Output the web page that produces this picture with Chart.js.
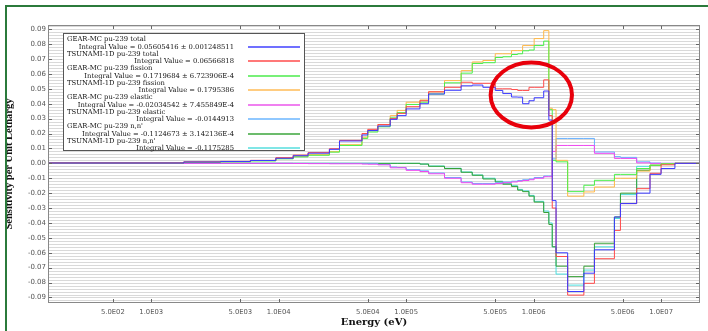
<!DOCTYPE html>
<html>
<head>
<meta charset="utf-8">
<title>Pu-239 sensitivity</title>
<script src="https://cdn.jsdelivr.net/npm/chart.js@4.4.1/dist/chart.umd.min.js"></script>
<style>
  html, body { margin: 0; padding: 0; background: #fff; }
  #wrap { position: relative; width: 708px; height: 331px; overflow: hidden; }
  #frame { position: absolute; left: 5px; top: 5px; width: 720px; height: 340px;
           border-left: 2px solid #2b7a3b; border-top: 2px solid #2b7a3b; }
  #legend { position: absolute; left: 63px; top: 33px; width: 240px; height: 116px;
            background: #fff; border: 1px solid #555;
            font-family: 'DejaVu Serif', serif; font-size: 6.8px; color: #111; }
  .row { position: absolute; white-space: nowrap; line-height: 8px; }
  .swatch { position: absolute; height: 2px; width: 52px; }
</style>
</head>
<body>
<div id="wrap">
  <div id="frame"></div>
  <canvas id="chart" width="708" height="331"></canvas>
  <div id="legend"></div>
</div>
<script>
// Energy group edges (eV), lower edges plus the last upper edge
const groupEdges = [100, 1.8e3, 3.5e3, 6e3, 9.5e3, 1.3e4, 1.7e4, 2.5e4, 3e4, 4.5e4,
  5e4, 6e4, 7.5e4, 8.5e4, 1e5, 1.283e5, 1.5e5, 2e5, 2.7e5, 3.3e5,
  4e5, 5e5, 5.73e5, 6.7e5, 7.5e5, 8.2e5, 9.2e5, 1.01e6, 1.2e6, 1.317e6,
  1.4e6, 1.5e6, 1.85e6, 2.479e6, 3e6, 4.304e6, 4.8e6, 6.434e6, 8.187e6, 1e7,
  1.284e7, 2e7];

// Sensitivity per unit lethargy, one value per group
const gearTotal = [0.0002, 0.0009, 0.0012, 0.0019, 0.0034, 0.0051, 0.0068, 0.0094, 0.015, 0.019,
  0.022, 0.025, 0.0295, 0.032, 0.0365, 0.040, 0.0465, 0.049, 0.052, 0.0525,
  0.051, 0.0489, 0.0468, 0.0445, 0.0444, 0.040, 0.042, 0.044, 0.0485, 0.029,
  -0.025, -0.060, -0.086, -0.0737, -0.058, -0.036, -0.027, -0.020, -0.0074, -0.0035, 0];
const tsunamiTotal = [0.0003, 0.001, 0.0013, 0.002, 0.0038, 0.0055, 0.0072, 0.0098, 0.0154, 0.020,
  0.0228, 0.026, 0.030, 0.0335, 0.038, 0.042, 0.048, 0.051, 0.0544, 0.0537,
  0.0537, 0.050, 0.050, 0.0495, 0.0489, 0.0489, 0.051, 0.051, 0.056, 0.032,
  -0.030, -0.0625, -0.0884, -0.0805, -0.064, -0.045, -0.027, -0.017, -0.0067, -0.001, 0];
const gearFission = [0.0002, 0.0007, 0.001, 0.0016, 0.003, 0.0043, 0.0054, 0.0075, 0.012, 0.0167,
  0.021, 0.0245, 0.0305, 0.034, 0.0395, 0.041, 0.0465, 0.054, 0.0605, 0.067,
  0.0675, 0.071, 0.0715, 0.073, 0.0735, 0.0755, 0.076, 0.079, 0.082, 0.036,
  0.002, 0.001, -0.019, -0.0147, -0.0114, -0.0074, -0.0074, -0.0035, -0.0013, -0.0003, 0];
const tsunamiFission = [0.0002, 0.0008, 0.0011, 0.0018, 0.0033, 0.0047, 0.0058, 0.0078, 0.0125, 0.0175,
  0.022, 0.026, 0.032, 0.0355, 0.041, 0.0425, 0.048, 0.0555, 0.0622, 0.068,
  0.069, 0.0735, 0.0735, 0.0756, 0.0756, 0.079, 0.079, 0.0837, 0.089, 0.037,
  0.036, 0.002, -0.022, -0.0192, -0.0159, -0.010, -0.010, -0.0052, -0.0013, -0.0003, 0];
const gearElastic = [0, 0, 0, 0, 0, -0.0001, -0.0002, -0.0003, -0.0003, -0.0005,
  -0.0006, -0.001, -0.003, -0.003, -0.0047, -0.0055, -0.007, -0.010, -0.013, -0.014,
  -0.014, -0.0135, -0.013, -0.0125, -0.012, -0.0115, -0.011, -0.010, -0.009, -0.009,
  0.008, 0.012, 0.012, 0.012, 0.0067, 0.0033, 0.0033, 0.0003, 0, 0, 0];
const tsunamiElastic = [0, 0, 0, 0, 0, 0, 0, 0, 0, 0,
  0, -0.0008, -0.0025, -0.0028, -0.0042, -0.005, -0.0065, -0.0095, -0.0125, -0.0135,
  -0.0135, -0.013, -0.0125, -0.012, -0.0115, -0.011, -0.0105, -0.0095, -0.0085, -0.0085,
  0.003, 0.0167, 0.0167, 0.0167, 0.0076, 0.0045, 0.004, 0.001, 0.0002, 0, 0];
const gearInelastic = [0, 0, 0, 0, 0, 0, 0, 0, 0, 0,
  0, 0, 0, 0, 0, -0.0005, -0.002, -0.0035, -0.006, -0.008,
  -0.0105, -0.0125, -0.014, -0.0155, -0.018, -0.019, -0.022, -0.026, -0.033, -0.041,
  -0.056, -0.069, -0.076, -0.069, -0.0536, -0.036, -0.020, -0.0047, -0.0013, -0.0003, 0];
const tsunamiInelastic = [0, 0, 0, 0, 0, 0, 0, 0, 0, 0,
  0, 0, 0, 0, 0, -0.0005, -0.0018, -0.0033, -0.0058, -0.0078,
  -0.010, -0.012, -0.0135, -0.015, -0.0175, -0.0185, -0.0215, -0.0255, -0.032, -0.040,
  -0.056, -0.0743, -0.0817, -0.0716, -0.056, -0.037, -0.021, -0.002, -0.0013, -0.0003, 0];

const seriesNames = ['GEAR-MC pu-239 total', 'TSUNAMI-1D pu-239 total',
  'GEAR-MC pu-239 fission', 'TSUNAMI-1D pu-239 fission',
  'GEAR-MC pu-239 elastic', 'TSUNAMI-1D pu-239 elastic',
  "GEAR-MC pu-239 n,n'", "TSUNAMI-1D pu-239 n,n'"];
const integralTexts = ['Integral Value = 0.05605416 \u00b1 0.001248511',
  'Integral Value = 0.06566818',
  'Integral Value = 0.1719684 \u00b1 6.723906E-4',
  'Integral Value = 0.1795386',
  'Integral Value = -0.02034542 \u00b1 7.455849E-4',
  'Integral Value = -0.0144913',
  'Integral Value = -0.1124673 \u00b1 3.142136E-4',
  'Integral Value = -0.1175285'];
const seriesColors = ['#3a3aff', '#ff4a4a', '#48f048', '#ffb848',
  '#f048f0', '#66b0ff', '#34a034', '#4adede'];
const swatchColors = ['#7070ff', '#ff7878', '#78f078', '#ffcc80',
  '#f080f0', '#90c8ff', '#6cbc6c', '#80e6e6'];

const xTicks = [5e2, 1e3, 5e3, 1e4, 5e4, 1e5, 5e5, 1e6, 5e6, 1e7];
const yTicks = [-0.09, -0.08, -0.07, -0.06, -0.05, -0.04, -0.03, -0.02, -0.01, 0,
  0.01, 0.02, 0.03, 0.04, 0.05, 0.06, 0.07, 0.08, 0.09];

// Region marked by the red ellipse (energy, sensitivity)
const markedRegion = { xMin: 4.6e5, xMax: 2.0e6, yMin: 0.0241, yMax: 0.0676 };

const allSeries = [gearTotal, tsunamiTotal, gearFission, tsunamiFission,
  gearElastic, tsunamiElastic, gearInelastic, tsunamiInelastic];

// Turn group values into step points
function stepPoints(values) {
  return groupEdges.map((e, i) => ({ x: e, y: values[Math.min(i, values.length - 1)] }));
}

function formatEnergy(v) {
  const e = Math.floor(Math.log10(v) + 1e-9);
  const m = v / Math.pow(10, e);
  return m.toFixed(1) + 'E' + String(e).padStart(2, '0');
}

// Dense horizontal grid behind the curves
const fineGrid = {
  id: 'fineGrid',
  beforeDatasetsDraw(chart) {
    const { ctx, chartArea: a, scales: { y } } = chart;
    ctx.save();
    ctx.strokeStyle = '#d9d9d9';
    ctx.lineWidth = 1;
    ctx.beginPath();
    for (let k = -46; k <= 46; k++) {
      const py = Math.round(y.getPixelForValue(k * 0.002)) + 0.5;
      if (py < a.top || py > a.bottom) continue;
      ctx.moveTo(a.left, py);
      ctx.lineTo(a.right, py);
    }
    ctx.stroke();
    ctx.restore();
  }
};

// Plot box with inward tick marks on all four sides
const boxTicks = {
  id: 'boxTicks',
  afterDatasetsDraw(chart) {
    const { ctx, chartArea: a, scales: { x, y } } = chart;
    ctx.save();
    ctx.strokeStyle = '#666';
    ctx.lineWidth = 1;
    ctx.beginPath();
    xTicks.forEach(v => {
      const px = Math.round(x.getPixelForValue(v)) + 0.5;
      ctx.moveTo(px, a.top); ctx.lineTo(px, a.top + 4);
      ctx.moveTo(px, a.bottom); ctx.lineTo(px, a.bottom - 4);
    });
    yTicks.forEach(v => {
      const py = Math.round(y.getPixelForValue(v)) + 0.5;
      ctx.moveTo(a.left, py); ctx.lineTo(a.left + 4, py);
      ctx.moveTo(a.right, py); ctx.lineTo(a.right - 4, py);
    });
    ctx.stroke();
    ctx.strokeStyle = '#888';
    ctx.strokeRect(a.left + 0.5, a.top + 0.5, a.right - a.left - 1, a.bottom - a.top - 1);
    ctx.restore();
  }
};

// Red ellipse around the marked region
const ellipseMark = {
  id: 'ellipseMark',
  afterDatasetsDraw(chart) {
    const { ctx, scales: { x, y } } = chart;
    const x0 = x.getPixelForValue(markedRegion.xMin), x1 = x.getPixelForValue(markedRegion.xMax);
    const y0 = y.getPixelForValue(markedRegion.yMax), y1 = y.getPixelForValue(markedRegion.yMin);
    ctx.save();
    ctx.strokeStyle = '#e8000b';
    ctx.lineWidth = 4;
    ctx.beginPath();
    ctx.ellipse((x0 + x1) / 2, (y0 + y1) / 2, (x1 - x0) / 2, (y1 - y0) / 2, 0, 0, Math.PI * 2);
    ctx.stroke();
    ctx.restore();
  }
};

function buildLegend() {
  const box = document.getElementById('legend');
  seriesNames.forEach((name, i) => {
    const top = i * 14.54;
    const a = document.createElement('div');
    a.className = 'row';
    a.style.left = '3px';
    a.style.top = Math.round(1 + top) + 'px';
    a.textContent = name;
    const b = document.createElement('div');
    b.className = 'row';
    b.style.right = '70px';
    b.style.top = Math.round(8.7 + top) + 'px';
    b.textContent = integralTexts[i];
    const s = document.createElement('div');
    s.className = 'swatch';
    s.style.left = '184px';
    s.style.top = Math.round(11.7 + top) + 'px';
    s.style.backgroundColor = swatchColors[i];
    box.appendChild(a);
    box.appendChild(b);
    box.appendChild(s);
  });
}

function drawChart() {
  const ctx = document.getElementById('chart').getContext('2d');
  new Chart(ctx, {
    type: 'line',
    data: {
      datasets: allSeries.map((vals, i) => ({
        label: seriesNames[i],
        data: stepPoints(vals),
        borderColor: seriesColors[i],
        borderWidth: 1,
        stepped: true,
        pointRadius: 0,
        fill: false
      }))
    },
    options: {
      responsive: false,
      animation: false,
      layout: { padding: { top: 25, right: 8, left: 0, bottom: 0 } },
      plugins: { legend: { display: false }, tooltip: { enabled: false } },
      scales: {
        x: {
          type: 'logarithmic',
          min: 155,
          max: 2.02e7,
          afterBuildTicks: s => { s.ticks = xTicks.map(v => ({ value: v })); },
          afterFit: s => { s.height = 28; },
          grid: { display: false, drawTicks: false },
          border: { display: false },
          ticks: {
            autoSkip: false,
            maxRotation: 0,
            padding: 5,
            color: '#555',
            font: { family: 'DejaVu Sans', size: 6.8 },
            callback: v => formatEnergy(v)
          },
          title: {
            display: true,
            text: 'Energy (eV)',
            color: '#111',
            font: { family: 'DejaVu Serif', size: 10, weight: 'bold' },
            padding: { top: 0, bottom: 3 }
          }
        },
        y: {
          min: -0.0937,
          max: 0.0928,
          afterBuildTicks: s => { s.ticks = yTicks.map(v => ({ value: v })); },
          afterFit: s => { s.width = 48; },
          grid: { display: false, drawTicks: false },
          border: { display: false },
          ticks: {
            padding: 2,
            color: '#555',
            font: { family: 'DejaVu Sans', size: 7 },
            callback: v => v.toFixed(2)
          },
          title: {
            display: true,
            text: 'Sensitivity per Unit Lethargy',
            color: '#111',
            font: { family: 'Liberation Serif', size: 10.5, weight: 'bold' },
            padding: { top: 3, bottom: 0 }
          }
        }
      }
    },
    plugins: [fineGrid, boxTicks, ellipseMark]
  });
}

buildLegend();
drawChart();
</script>
</body>
</html>
